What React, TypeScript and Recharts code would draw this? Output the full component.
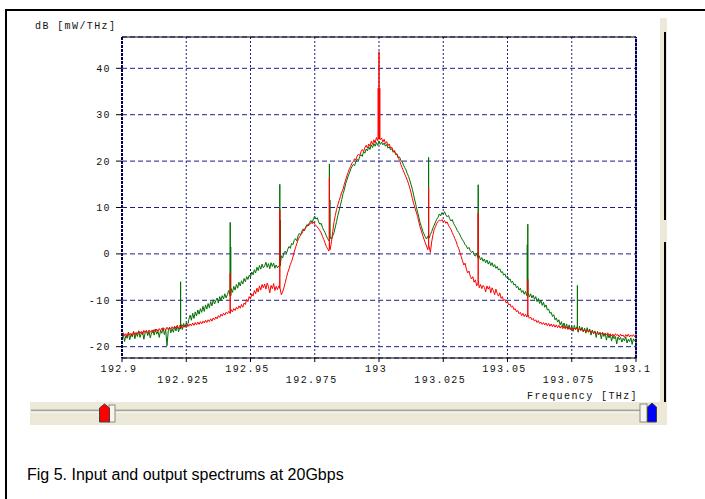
import React from 'react';
import { LineChart, Line, XAxis, YAxis, CartesianGrid, ReferenceLine } from 'recharts';

// ---- data ----
const freqStart = 192.9;
const freqStep = 0.0005;

// green trace (input spectrum), one value per 0.0005 THz from 192.900 to 193.100
const inputSpectrum = [
  -18.6, -17.3, -18.9, -17.6, -18.2, -16.9, -18.5, -17.4, -17.9, -16.7, -18.3, -17.1, -17.8, -16.6, -18.0, -17.2, -16.8, -18.4, -17.0, -16.5,
  -17.6, -16.8, -18.1, -17.0, -16.4, -17.5, -16.2, -17.3, -16.7, -18.0, -16.5, -17.1, -15.9, -17.4, -16.3, -19.8, -16.6, -15.8, -17.0, -16.1,
  -16.9, -15.7, -16.6, -15.4, -16.8, -15.9, -15.2, -16.3, -15.0, -15.8, -14.9, -15.6, -14.1, -13.2, -14.3, -12.8, -13.9, -12.5, -13.4, -12.1,
  -13.0, -11.8, -12.6, -11.3, -12.4, -11.0, -11.9, -10.7, -11.6, -10.3, -11.2, -9.9, -10.8, -10.1, -9.5, -10.6, -9.2, -10.0, -9.0, -9.7,
  -8.6, -9.5, -8.8, -7.9, -8.7, -7.5, -8.3, -7.0, -7.8, -6.6, -7.4, -6.1, -6.9, -5.8, -6.5, -5.3, -6.0, -4.9, -5.5, -4.6,
  -5.0, -3.9, -4.5, -3.4, -4.1, -2.9, -3.6, -2.5, -3.3, -2.2, -3.0, -2.6, -1.8, -2.9, -2.1, -3.2, -1.9, -2.7, -2.0, -3.1,
  -2.4, -3.0, -2.6, -1.2, -0.4, -0.9, 0.2, 0.6, 0.1, 1.0, 1.6, 1.2, 2.3, 2.0, 2.9, 3.3, 2.8, 3.9, 4.4, 4.1,
  4.9, 5.4, 5.0, 5.9, 6.3, 6.0, 6.8, 7.2, 6.7, 7.6, 8.1, 7.5, 7.8, 6.9, 6.4, 6.6, 5.7, 5.1, 4.6, 3.9,
  3.3, 2.8, 3.6, 3.2, 3.9, 4.6, 5.8, 7.0, 8.3, 9.4, 10.5, 11.7, 13.0, 13.8, 15.1, 15.9, 16.8, 17.4, 18.3, 18.8,
  19.3, 19.0, 19.9, 20.4, 20.1, 21.0, 21.4, 21.0, 22.1, 21.7, 22.6, 22.2, 23.1, 22.5, 23.5, 22.9, 23.8, 23.2, 24.0, 23.4,
  24.3, 23.6, 24.1, 23.5, 23.9, 23.2, 23.6, 22.8, 23.1, 22.4, 22.7, 21.9, 22.2, 21.4, 21.6, 20.8, 20.9, 20.1, 19.9, 19.2,
  18.6, 18.1, 17.3, 16.7, 15.8, 14.9, 13.9, 12.6, 11.4, 10.2, 9.0, 7.9, 6.7, 5.9, 4.9, 4.3, 3.7, 3.2, 3.8, 3.4,
  4.2, 4.8, 5.6, 6.2, 6.9, 7.5, 7.9, 8.6, 8.2, 8.9, 8.5, 9.1, 8.4, 8.0, 8.3, 7.6, 7.1, 7.4, 6.6, 6.1,
  5.6, 5.0, 4.6, 4.1, 3.5, 3.0, 2.6, 2.0, 1.7, 1.1, 1.4, 0.7, 0.3, 0.6, -0.2, -0.5, 0.1, -0.9, -0.4, -1.3,
  -0.8, -1.6, -1.1, -1.9, -1.3, -2.2, -1.6, -2.5, -1.9, -2.8, -2.3, -3.1, -2.7, -3.5, -3.2, -4.0, -3.8, -4.6, -4.3, -5.1,
  -4.8, -5.6, -5.4, -6.2, -5.9, -6.7, -6.5, -7.3, -7.0, -7.8, -7.4, -8.3, -7.9, -8.7, -8.1, -9.0, -8.4, -9.3, -8.6, -9.5,
  -8.9, -9.8, -9.2, -10.3, -9.6, -10.7, -10.0, -11.1, -10.4, -11.5, -11.0, -12.1, -11.9, -12.8, -12.6, -13.5, -13.1, -14.2, -13.8, -14.7,
  -14.2, -15.3, -14.6, -15.8, -14.9, -16.0, -15.1, -16.2, -15.3, -16.4, -15.5, -16.7, -15.4, -16.3, -15.7, -16.9, -15.6, -16.5, -15.8, -16.8,
  -16.0, -17.1, -15.9, -16.8, -16.2, -17.5, -16.4, -17.2, -16.6, -18.0, -16.7, -17.4, -16.9, -18.3, -17.0, -17.8, -17.1, -18.6, -17.3, -18.1,
  -17.4, -18.8, -17.6, -18.3, -17.8, -19.4, -17.9, -18.5, -18.0, -19.0, -18.2, -18.7, -17.9, -19.2, -18.4, -18.9, -18.1, -19.5, -18.3, -18.8,
  -18.5,
];

// red trace (output spectrum), same frequency grid
const outputSpectrum = [
  -17.8, -17.0, -17.6, -17.2, -17.9, -16.9, -17.5, -17.1, -17.7, -16.8, -17.4, -16.9, -17.3, -16.6, -17.2, -16.7, -17.4, -16.5, -17.0, -16.6,
  -17.1, -16.4, -16.9, -16.5, -17.0, -16.3, -16.8, -16.2, -16.7, -16.1, -16.6, -16.0, -16.5, -16.1, -16.4, -15.8, -16.3, -15.9, -16.2, -15.7,
  -16.1, -15.6, -16.0, -15.5, -16.1, -15.4, -15.9, -15.3, -15.8, -15.5, -15.9, -15.2, -15.6, -15.1, -15.5, -14.9, -15.4, -14.8, -15.3, -14.7,
  -15.2, -14.6, -15.1, -14.5, -14.9, -14.3, -14.8, -14.2, -14.6, -14.0, -14.5, -13.8, -14.2, -13.6, -14.0, -13.3, -13.7, -13.0, -13.4, -12.8,
  -13.2, -12.6, -12.9, -12.4, -12.8, -12.0, -12.5, -11.8, -12.2, -11.5, -11.9, -11.2, -11.7, -10.9, -11.5, -10.6, -10.9, -9.8, -10.3, -9.2,
  -9.7, -8.6, -9.1, -7.9, -8.6, -7.4, -8.2, -6.9, -7.8, -6.6, -7.3, -6.5, -7.6, -6.3, -7.1, -8.4, -6.8, -7.5, -6.4, -7.9,
  -7.0, -7.7, -6.9, -7.4, -8.8, -8.2, -7.3, -6.2, -5.1, -4.0, -3.2, -2.3, -1.6, -0.7, 0.4, 1.3, 2.2, 3.0, 3.6, 4.1,
  4.4, 5.0, 5.2, 5.7, 5.9, 6.4, 6.3, 6.8, 6.5, 6.9, 6.4, 6.1, 5.8, 5.4, 5.0, 4.5, 3.8, 3.1, 2.4, 1.6,
  1.1, 0.6, 0.9, 2.6, 4.8, 6.9, 8.3, 9.6, 10.6, 11.5, 12.4, 13.3, 13.9, 15.0, 15.9, 16.8, 17.6, 18.4, 18.9, 19.6,
  19.9, 20.5, 20.3, 21.1, 21.5, 21.2, 22.0, 22.5, 22.1, 22.9, 23.4, 22.8, 23.7, 23.2, 24.3, 23.6, 24.6, 23.9, 25.1, 24.4,
  25.3, 24.6, 25.0, 24.1, 24.7, 23.8, 24.2, 23.3, 23.7, 22.8, 23.0, 22.1, 22.3, 21.5, 21.4, 20.6, 20.2, 19.3, 18.6, 17.9,
  17.2, 16.6, 15.9, 15.1, 14.2, 13.1, 11.9, 10.8, 9.9, 9.0, 8.1, 6.9, 5.8, 4.9, 4.0, 3.2, 2.4, 1.7, 0.9, 1.6,
  0.3, 2.6, 4.1, 5.3, 5.9, 6.6, 7.0, 7.3, 7.1, 7.4, 6.9, 7.2, 6.6, 6.9, 6.2, 5.7, 5.3, 4.6, 4.0, 3.3,
  2.7, 1.8, 1.2, 0.3, -0.6, -1.5, -2.4, -2.0, -3.3, -4.1, -3.7, -4.8, -5.4, -4.9, -6.1, -5.6, -6.9, -6.3, -7.3, -6.6,
  -7.5, -6.8, -7.2, -8.2, -6.9, -7.6, -7.0, -8.4, -7.3, -7.9, -8.8, -7.6, -8.5, -9.1, -8.4, -9.6, -9.2, -10.1, -9.8, -10.6,
  -10.3, -11.0, -10.8, -11.5, -11.2, -12.0, -11.8, -12.5, -12.2, -12.9, -12.6, -13.3, -12.8, -13.5, -13.0, -13.6, -13.2, -13.9, -13.6, -14.2,
  -13.9, -14.5, -14.2, -14.8, -14.4, -15.0, -14.7, -15.2, -14.8, -15.3, -14.9, -15.5, -15.0, -15.6, -15.1, -15.7, -15.2, -15.8, -15.3, -15.9,
  -15.4, -16.0, -15.5, -16.1, -15.6, -16.2, -15.7, -16.3, -15.8, -16.4, -15.9, -16.5, -16.0, -16.3, -15.9, -16.6, -16.1, -16.5, -16.2, -16.8,
  -16.3, -16.7, -16.4, -16.9, -16.5, -17.0, -16.6, -17.1, -16.8, -17.2, -16.9, -17.4, -17.0, -17.3, -16.9, -17.5, -17.1, -17.4, -17.0, -17.6,
  -17.2, -17.7, -17.3, -17.8, -17.2, -17.6, -17.4, -17.9, -17.3, -17.7, -17.5, -18.0, -17.4, -17.8, -17.3, -17.9, -17.5, -17.8, -17.4, -17.9,
  -17.6,
];

// narrow spectral lines (tones) on each trace
const inputSpikeFreqs = [192.9228, 192.9421, 192.9423, 192.9614, 192.9616, 192.9807, 192.9809, 193.0193, 193.0386, 193.0577, 193.0579, 193.0772];
const inputSpikeBases = [-16.2, -9.0, -9.0, -2.5, -2.5, 3.3, 3.3, 3.6, -0.5, -8.4, -8.4, -15.8];
const inputSpikeTops = [-6.0, 6.8, 1.5, 15.0, 7.3, 19.4, 11.6, 20.8, 14.9, 2.0, 6.4, -6.8];

const outputSpikeFreqs = [192.9421, 192.9614, 192.9807, 192.9997, 193.0, 193.0003, 193.0193, 193.0386, 193.0579];
const outputSpikeBases = [-12.8, -7.4, 1.5, 24.8, 24.8, 24.8, 2.0, -5.6, -13.4];
const outputSpikeTops = [-4.2, 9.5, 16.4, 35.7, 43.6, 35.7, 14.1, 8.8, -5.5];

const xTicks = [192.9, 192.925, 192.95, 192.975, 193, 193.025, 193.05, 193.075, 193.1];
const xTickLabels = ['192.9', '192.925', '192.95', '192.975', '193', '193.025', '193.05', '193.075', '193.1'];
const yTicks = [-20, -10, 0, 10, 20, 30, 40];
const yTickLabels = ['-20', '-10', '0', '10', '20', '30', '40'];
const yDomain = [-22.44, 46.75];
const xDomain = [192.9, 193.1];

type Pt = { f: number; v: number; o: number };

function buildSeries(values: number[], sf: number[], sb: number[], st: number[]): Pt[] {
  const pts: Pt[] = values.map((v, i) => ({ f: Number((freqStart + i * freqStep).toFixed(4)), v, o: 0 }));
  sf.forEach((f, k) => {
    pts.push({ f, v: sb[k], o: 1 }, { f, v: st[k], o: 2 }, { f, v: sb[k], o: 3 });
  });
  pts.sort((a, b) => a.f - b.f || a.o - b.o);
  return pts;
}

const inputData = buildSeries(inputSpectrum, inputSpikeFreqs, inputSpikeBases, inputSpikeTops);
const outputData = buildSeries(outputSpectrum, outputSpikeFreqs, outputSpikeBases, outputSpikeTops);

const MONO = '"Liberation Mono", "DejaVu Sans Mono", monospace';

const XTick = (props: any) => {
  const { x, y, index } = props;
  const row = index % 2;
  return (
    <text
      x={x - 3}
      y={y + (row ? 18.5 : 7.5)}
      textAnchor="middle"
      fontFamily={MONO}
      fontSize={10}
      letterSpacing={1.4}
      fill="#111"
    >
      {xTickLabels[index]}
    </text>
  );
};

export default function App() {
  return (
    <div style={{ position: 'absolute', left: 0, top: 0, width: 705, height: 499, background: '#fff', overflow: 'hidden' }}>
      {/* figure frame */}
      <div style={{ position: 'absolute', left: 5, top: 9, width: 700, height: 2, background: '#000' }} />
      <div style={{ position: 'absolute', left: 5, top: 9, width: 2, height: 490, background: '#000' }} />

      <div style={{ position: 'absolute', left: 0, top: 0 }}>
        <LineChart width={705} height={400} margin={{ top: 37, right: 69, left: 82, bottom: 0 }}>
          <CartesianGrid vertical={false} stroke="#1c1c8a" strokeDasharray="5 3" />
          <CartesianGrid horizontal={false} stroke="#1c1c8a" strokeDasharray="2 2" />
          <XAxis
            dataKey="f"
            type="number"
            domain={xDomain}
            ticks={xTicks}
            interval={0}
            allowDataOverflow
            height={42}
            tickSize={4}
            tickMargin={2}
            axisLine={{ stroke: '#000' }}
            tickLine={{ stroke: '#000' }}
            tick={<XTick />}
          />
          <YAxis
            type="number"
            domain={yDomain}
            ticks={yTicks}
            interval={0}
            allowDataOverflow
            width={40}
            tickSize={6}
            tickMargin={5}
            axisLine={{ stroke: '#00005a', strokeWidth: 2, strokeDasharray: '3 1' }}
            tickLine={{ stroke: '#000' }}
            tickFormatter={(v: number) => yTickLabels[yTicks.indexOf(v)] ?? String(v)}
            tick={{ fontFamily: MONO, fontSize: 10, letterSpacing: 1.4, fill: '#111' }}
          />
          <ReferenceLine y={yDomain[1]} stroke="#000" />
          <ReferenceLine x={xDomain[1]} stroke="#00005a" strokeWidth={2} strokeDasharray="3 1" />
          <Line
            data={inputData}
            dataKey="v"
            type="linear"
            stroke="#007000"
            strokeWidth={1}
            dot={false}
            isAnimationActive={false}
          />
          <Line
            data={outputData}
            dataKey="v"
            type="linear"
            stroke="#ff0000"
            strokeWidth={1}
            dot={false}
            isAnimationActive={false}
          />
        </LineChart>
      </div>

      {/* axis captions */}
      <div style={{ position: 'absolute', left: 35, top: 21, fontFamily: MONO, fontSize: 10, letterSpacing: 1.4, color: '#111', whiteSpace: 'pre', lineHeight: '12px' }}>
        dB [mW/THz]
      </div>
      <div style={{ position: 'absolute', left: 527, top: 391, fontFamily: MONO, fontSize: 10, letterSpacing: 1.4, color: '#111', whiteSpace: 'pre', lineHeight: '12px' }}>
        Frequency [THz]
      </div>

      {/* slider and scrollbar decorations */}
      <svg width={705} height={499} style={{ position: 'absolute', left: 0, top: 0, pointerEvents: 'none' }}>
        <rect x={660} y={18} width={7} height={407} fill="#ECE9D8" />
        <rect x={664} y={32} width={2} height={188} fill="#000" />
        <rect x={664} y={242} width={2} height={179} fill="#000" />
        <rect x={30} y={402} width={636} height={23} fill="#ECE9D8" />
        <rect x={31} y={409.5} width={625} height={2} fill="#A7A694" />
        <rect x={31} y={411.5} width={625} height={1} fill="#ffffff" />
        <rect x={109} y={405} width={6} height={17} fill="#F6F5EE" stroke="#8a8a80" strokeWidth={1} />
        <polygon points="99.5,422 99.5,408 104.5,404 109.5,408 109.5,422" fill="#ff0000" stroke="#404040" strokeWidth={1} />
        <rect x={640} y={404} width={7} height={18} fill="#F6F5EE" stroke="#8a8a80" strokeWidth={1} />
        <polygon points="647.5,422 647.5,407 652,403 656.5,407 656.5,422" fill="#0000ff" stroke="#404040" strokeWidth={1} />
      </svg>

      <div style={{ position: 'absolute', left: 27, top: 465, fontFamily: '"Liberation Sans", Arial, sans-serif', fontSize: 16, color: '#000', whiteSpace: 'pre', lineHeight: '20px' }}>
        Fig 5. Input and output spectrums at 20Gbps
      </div>
    </div>
  );
}
